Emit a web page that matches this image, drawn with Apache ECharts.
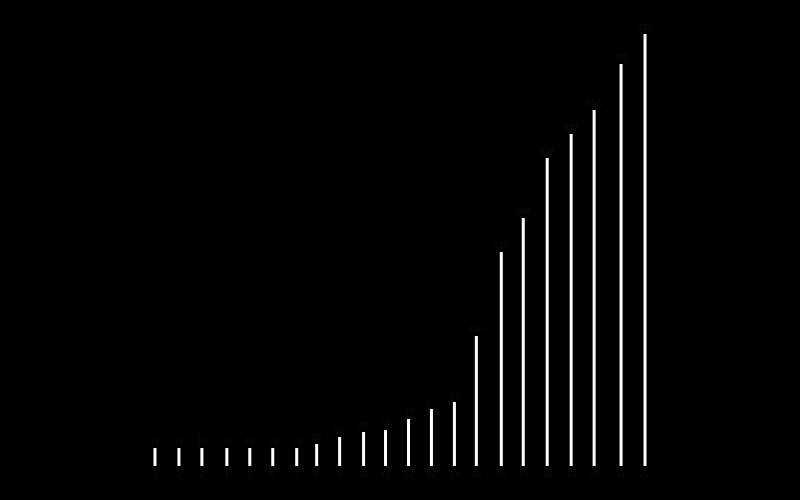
<!DOCTYPE html>
<html>
<head>
<meta charset="utf-8">
<script src="https://cdn.jsdelivr.net/npm/echarts@6/dist/echarts.min.js"></script>
<style>
  html, body { margin: 0; padding: 0; background: #000; }
  #chart { width: 800px; height: 500px; }
</style>
</head>
<body>
<div id="chart"></div>
<script>
// x positions of the bars (spacing is uneven in the reference)
const xValues = [0, 24, 47, 72, 95, 118, 142, 162, 185, 209, 231,
  254, 277, 300, 322, 347, 369, 393, 417, 440, 467, 491];
// labels under the bars (nearly invisible in the reference)
const categories = ["1", "2", "3", "4", "5", "6", "7", "8", "9", "10", "11",
  "12", "13", "14", "15", "16", "17", "18", "19", "20", "21", "22"];
// bar values
const values = [18, 18, 18, 18, 18, 18, 18, 22, 29, 34, 36,
  47, 57, 64, 130, 214, 248, 308, 332, 356, 402, 432];

const seriesData = xValues.map((x, i) => [x, values[i]]);

let chart = echarts.init(document.getElementById("chart"));
chart.setOption({
  backgroundColor: "#000",
  animation: false,
  grid: {
    top: 16,
    bottom: 34,
    left: 143,
    right: 143
  },
  xAxis: {
    type: "value",
    min: -12,
    max: 503,
    axisLine: { show: false },
    axisTick: { show: false },
    splitLine: { show: false },
    axisLabel: {
      customValues: xValues,
      color: "#0c0c0c",
      fontSize: 9,
      margin: 4,
      formatter: (v) => categories[xValues.indexOf(v)] || ""
    }
  },
  yAxis: {
    type: "value",
    min: 0,
    max: 450,
    axisLabel: { show: false },
    axisLine: { show: false },
    axisTick: { show: false },
    splitLine: { show: false }
  },
  series: [
    {
      type: "bar",
      barWidth: 3,
      itemStyle: { color: "#ffffff" },
      label: {
        show: true,
        position: "top",
        color: "#0c0c0c",
        fontSize: 9,
        distance: 2,
        formatter: (p) => p.value[1]
      },
      data: seriesData
    }
  ]
});
</script>
</body>
</html>
